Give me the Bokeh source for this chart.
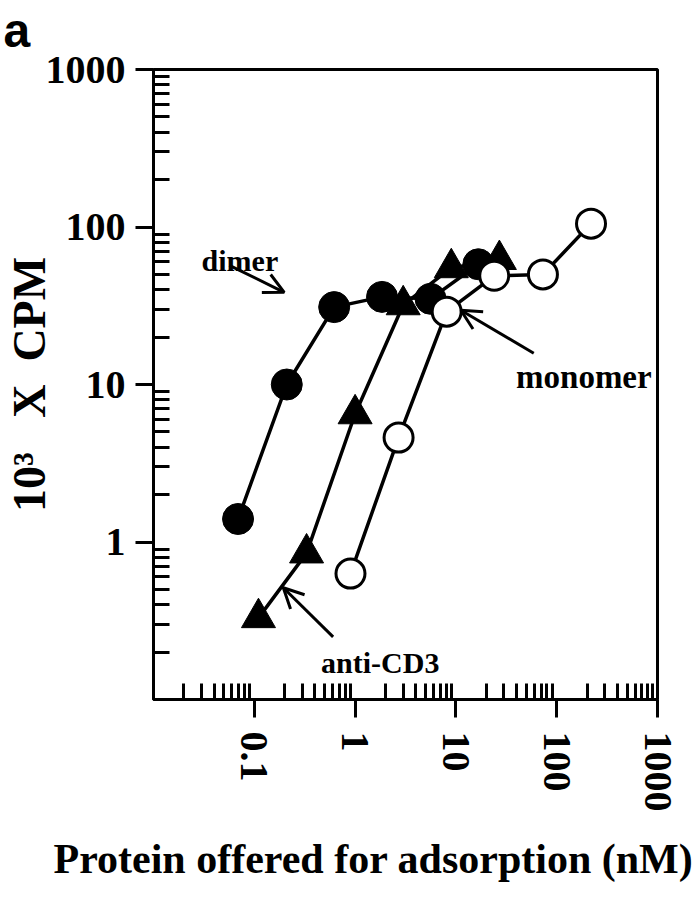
from bokeh.plotting import figure
from bokeh.models import Range1d, FixedTicker, Label, Arrow, OpenHead, Title
from bokeh.embed import file_html
from bokeh.resources import INLINE

# ---- data ----
dimer_x = [0.069, 0.21, 0.62, 1.85, 5.6, 16.7]
dimer_y = [1.4, 10.0, 31.0, 36.0, 35.0, 58.0]

anti_x = [0.11, 0.33, 1.0, 3.0, 9.0, 27.0]
anti_y = [0.33, 0.85, 6.5, 32.0, 55.0, 62.0]

mono_x = [0.9, 2.7, 8.1, 24.0, 73.0, 219.0]
mono_y = [0.63, 4.6, 29.0, 49.0, 50.0, 105.0]

x_ticks = [0.1, 1, 10, 100, 1000]
x_tick_labels = ["0.1", "1", "10", "100", "1000"]
y_ticks = [1, 10, 100, 1000]
y_tick_labels = ["1", "10", "100", "1000"]

x_minor = [m * 10.0 ** e for e in range(-2, 3) for m in range(2, 10)]
y_minor = [m * 10.0 ** e for e in range(-1, 3) for m in range(2, 10)]

SERIF = "Liberation Serif"
NB = "\u00a0"

p = figure(width=698, height=900, x_axis_type="log", y_axis_type="log",
           x_range=Range1d(0.01, 1000), y_range=Range1d(0.1, 1000),
           output_backend="svg", toolbar_location=None,
           min_border_left=152, min_border_right=41,
           min_border_top=69, min_border_bottom=200)
p.background_fill_color = "white"
p.border_fill_color = "white"
p.outline_line_color = "black"
p.outline_line_width = 3
p.xgrid.visible = False
p.ygrid.visible = False

# panel letter (second, blank line keeps the letter near the top edge)
p.title.text = "a\n" + NB
p.title.align = "left"
p.title.offset = -150
p.title.standoff = 2
p.title.text_line_height = 0.22
p.title.text_font = "Liberation Sans"
p.title.text_font_style = "bold"
p.title.text_font_size = "48px"
p.title.text_color = "black"

for ax, ticks, minor, labels in ((p.xaxis[0], x_ticks, x_minor, x_tick_labels),
                                 (p.yaxis[0], y_ticks, y_minor, y_tick_labels)):
    ax.ticker = FixedTicker(ticks=ticks, minor_ticks=minor)
    ax.major_label_overrides = {t: l for t, l in zip(ticks, labels)}
    ax.axis_line_width = 3
    ax.axis_line_color = "black"
    ax.major_tick_line_width = 3
    ax.major_tick_in = 0
    ax.major_tick_out = 18
    ax.minor_tick_line_width = 3
    ax.minor_tick_in = 16
    ax.minor_tick_out = 0
    ax.major_label_text_font = SERIF
    ax.major_label_text_font_style = "bold"
    ax.major_label_text_font_size = "40px"
    ax.major_label_text_color = "black"

p.xaxis.major_label_orientation = "vertical"
p.xaxis.major_label_standoff = 14
p.yaxis.major_label_standoff = 10

p.yaxis.axis_label = "10³" + NB * 3 + "X" + NB * 2 + "CPM"
p.yaxis.axis_label_text_font = SERIF
p.yaxis.axis_label_text_font_style = "bold"
p.yaxis.axis_label_text_font_size = "46px"
p.yaxis.axis_label_text_color = "black"
p.yaxis.axis_label_standoff = -12

p.add_layout(Title(text="Protein offered for adsorption (nM)", align="left", offset=-100,
                   text_font=SERIF, text_font_style="bold", text_font_size="42px",
                   text_color="black", standoff=38), "below")

# ---- series ----
lw = 3.5
p.line(dimer_x, dimer_y, line_width=lw, line_color="black")
p.line(anti_x, anti_y, line_width=lw, line_color="black")
p.line(mono_x, mono_y, line_width=lw, line_color="black")

p.scatter(dimer_x, dimer_y, marker="circle", size=31,
          fill_color="black", line_color="black")
p.scatter(anti_x, anti_y, marker="triangle", size=34,
          fill_color="black", line_color="black")
p.scatter(mono_x, mono_y, marker="circle", size=29,
          fill_color="white", line_color="black", line_width=3)

# ---- annotations in the plot ----
def lab(x, y, t, size):
    p.add_layout(Label(x=x, y=y, text=t, text_font=SERIF, text_font_style="bold",
                       text_font_size=size, text_color="black",
                       text_baseline="alphabetic", text_align="left"))

lab(0.03, 61.5, "dimer", "30px")
lab(39.5, 11.1, "monomer", "33px")
lab(0.46, 0.171, "anti-CD3", "30px")

def arrow(x0, y0, x1, y1):
    p.add_layout(Arrow(end=OpenHead(size=20, line_width=3, line_color="black"),
                       x_start=x0, y_start=y0, x_end=x1, y_end=y1,
                       line_width=3, line_color="black"))

arrow(0.0566, 57.1, 0.198, 38.5)
arrow(59.2, 15.8, 11.2, 29.6)
arrow(0.605, 0.25, 0.194, 0.512)

open("out.html", "w").write(file_html(p, INLINE))
